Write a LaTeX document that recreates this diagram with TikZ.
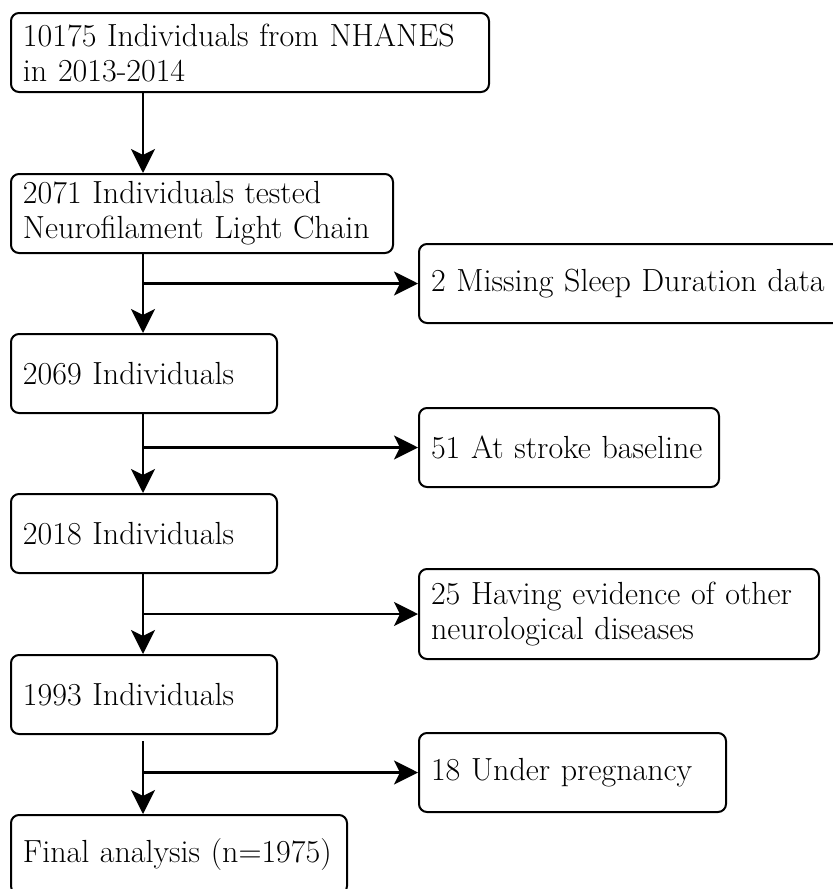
\documentclass[tikz,border=0pt]{standalone}
\usepackage{tikz}
\usetikzlibrary{positioning, arrows.meta}
\tikzset{box/.style = {draw, line width=1pt, rounded corners=4pt, anchor=north west,
                       align=left, inner xsep=6pt, minimum height=39.5pt, text width=#1,
                       font=\fontsize{16}{17.5}\selectfont},
         arr/.style = {line width=1.2pt, -{Stealth[length=12pt, width=12pt, inset=3pt]}}}
\begin{document}
\begin{tikzpicture}[x=0.5pt, y=-0.5pt]
                    \useasboundingbox (0,0) rectangle (832,889);
                    \coordinate (spine) at (143,0);
                    % main column
                    \node[box=227pt] (b1) at (10,12)  {10175 Individuals from NHANES\\in 2013-2014};
                    \node[box=179pt] (b2) at (10,173) {2071 Individuals tested\\Neurofilament Light Chain};
                    \node[box=121pt] (b3) at (10,333) {2069 Individuals};
                    \node[box=121pt] (b4) at (10,493) {2018 Individuals};
                    \node[box=121pt] (b5) at (10,654) {1993 Individuals};
                    \node[box=156pt] (b6) at (10,814) {Final analysis (n=1975)};
                    % excluded
                    \node[box=202pt] (e1) at (418,243) {2 Missing Sleep Duration data};
                    \node[box=138pt] (e2) at (418,407) {51 At stroke baseline};
                    \node[box=188pt, minimum height=45pt] (e3) at (418,568) {25 Having evidence of other\\neurological diseases};
                    \node[box=141.5pt] (e4) at (418,732) {18 Under pregnancy};
                    \draw[arr] (b1.south -| spine) -- (b2.north -| spine);
                    \draw[arr] (b2.south -| spine) -- (b3.north -| spine);
                    \draw[arr] (b3.south -| spine) -- (b4.north -| spine);
                    \draw[arr] (b4.south -| spine) -- (b5.north -| spine);
                    \draw[arr] ([yshift=-3pt]b5.south -| spine) -- (b6.north -| spine);
                    \foreach \e in {1,2,3,4}
                        \draw[arr] (e\e.west -| spine) -- (e\e.west);
                \end{tikzpicture}
\end{document}
